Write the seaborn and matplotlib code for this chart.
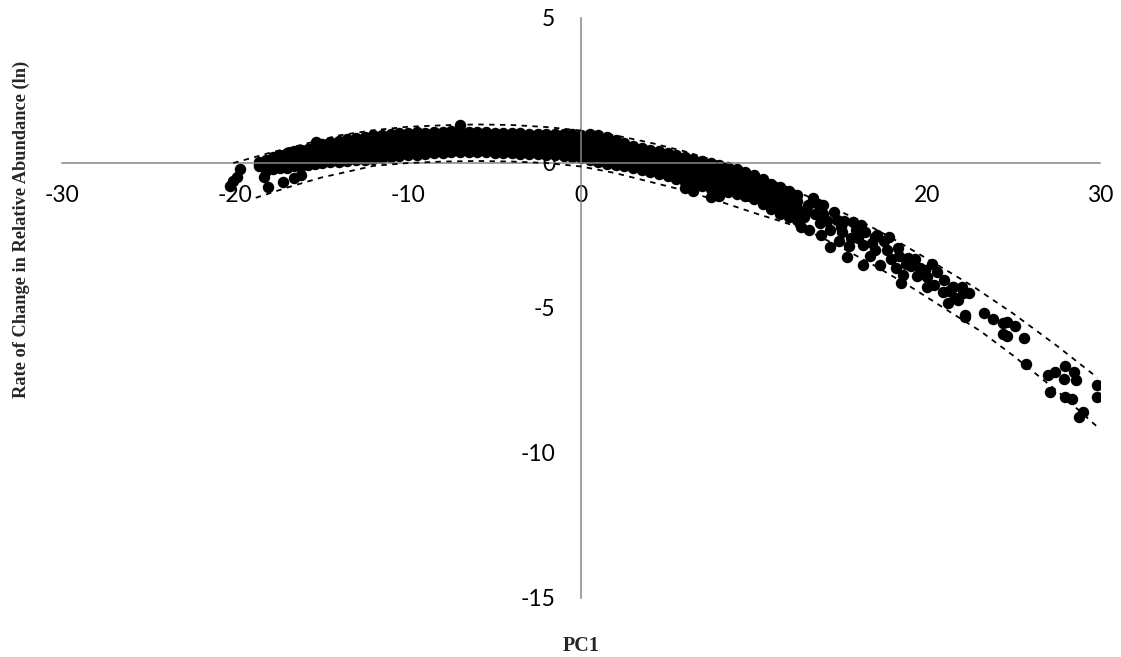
import matplotlib.pyplot as plt
import pandas as pd
import seaborn as sns

sns.set_style("white")
plt.rcParams['font.family'] = ['Lato', 'DejaVu Sans']
plt.rcParams['axes.unicode_minus'] = False

band_pc1 = [-18.6, -18.2, -17.8, -17.4, -17.0, -16.6, -16.2, -15.8, -15.4, -15.0,
            -14.5, -14.0, -13.5, -13.0, -12.5, -12.0, -11.5, -11.0, -10.5, -10.0,
            -9.5, -9.0, -8.5, -8.0, -7.5, -7.0, -6.5, -6.0, -5.5, -5.0,
            -4.5, -4.0, -3.5, -3.0, -2.5, -2.0, -1.5, -1.0, -0.5, 0.0,
            0.5, 1.0, 1.5, 2.0, 2.5, 3.0, 3.5, 4.0, 4.5, 5.0,
            5.5, 6.0, 6.5, 7.0, 7.5, 8.0, 8.5, 9.0, 9.5, 10.0,
            10.5, 11.0, 11.5, 12.0, 12.5]
band_rate = [
    [-0.12, -0.04, 0.04], [-0.27, -0.14, -0.01, 0.12], [-0.2, -0.07, 0.07, 0.2],
    [-0.18, -0.03, 0.12, 0.27], [-0.16, 0.0, 0.17, 0.34], [-0.12, 0.05, 0.22, 0.4],
    [-0.1, 0.08, 0.26, 0.44], [-0.08, 0.06, 0.2, 0.34, 0.48],
    [-0.05, 0.11, 0.28, 0.44, 0.6], [0.0, 0.17, 0.33, 0.5, 0.66],
    [0.02, 0.2, 0.37, 0.55, 0.72], [0.04, 0.22, 0.4, 0.58, 0.76],
    [0.06, 0.25, 0.44, 0.63, 0.82], [0.09, 0.28, 0.48, 0.67, 0.86],
    [0.12, 0.32, 0.51, 0.71, 0.9], [0.15, 0.35, 0.55, 0.75, 0.95],
    [0.18, 0.38, 0.58, 0.78, 0.98], [0.2, 0.4, 0.61, 0.81, 1.01],
    [0.24, 0.44, 0.64, 0.83, 1.03], [0.27, 0.47, 0.66, 0.86, 1.05],
    [0.29, 0.48, 0.68, 0.87, 1.06], [0.31, 0.5, 0.68, 0.87, 1.05],
    [0.33, 0.52, 0.71, 0.89, 1.08], [0.35, 0.53, 0.71, 0.89, 1.07],
    [0.37, 0.55, 0.74, 0.92, 1.1], [0.38, 0.57, 0.75, 0.94, 1.12, 1.3],
    [0.38, 0.56, 0.73, 0.91, 1.08], [0.38, 0.55, 0.73, 0.9, 1.07],
    [0.37, 0.54, 0.72, 0.89, 1.06], [0.35, 0.53, 0.7, 0.88, 1.05],
    [0.34, 0.52, 0.69, 0.87, 1.04], [0.33, 0.51, 0.68, 0.86, 1.03],
    [0.32, 0.5, 0.67, 0.85, 1.02], [0.3, 0.48, 0.65, 0.83, 1.0],
    [0.3, 0.48, 0.66, 0.83, 1.01], [0.29, 0.47, 0.64, 0.82, 0.99],
    [0.27, 0.45, 0.64, 0.82, 1.0], [0.25, 0.44, 0.62, 0.81, 0.99],
    [0.22, 0.42, 0.61, 0.81, 1.0], [0.18, 0.38, 0.58, 0.78, 0.98],
    [0.1, 0.33, 0.55, 0.78, 1.0], [0.02, 0.26, 0.5, 0.73, 0.97],
    [-0.03, 0.2, 0.44, 0.67, 0.9], [-0.08, 0.14, 0.36, 0.58, 0.8],
    [-0.12, 0.09, 0.29, 0.5, 0.7], [-0.16, 0.03, 0.22, 0.41, 0.6],
    [-0.23, -0.04, 0.15, 0.33, 0.52], [-0.3, -0.11, 0.08, 0.26, 0.45],
    [-0.37, -0.18, 0.02, 0.21, 0.4], [-0.45, -0.25, -0.05, 0.16, 0.36],
    [-0.55, -0.34, -0.13, 0.07, 0.28], [-0.65, -0.44, -0.23, -0.01, 0.2, -0.86],
    [-0.72, -0.51, -0.3, -0.08, 0.13, -0.97], [-0.8, -0.58, -0.37, -0.15, 0.07],
    [-0.9, -0.68, -0.45, -0.23, 0.0, -1.17], [-0.95, -0.73, -0.51, -0.28, -0.06, -1.15],
    [-1.0, -0.78, -0.57, -0.35, -0.13], [-1.07, -0.85, -0.63, -0.42, -0.2],
    [-1.15, -0.94, -0.73, -0.51, -0.3], [-1.25, -1.04, -0.83, -0.61, -0.4],
    [-1.4, -1.19, -0.98, -0.76, -0.55], [-1.6, -1.38, -1.16, -0.94, -0.72],
    [-1.75, -1.52, -1.28, -1.05, -0.82], [-1.85, -1.63, -1.41, -1.19, -0.97],
    [-1.98, -1.76, -1.54, -1.32, -1.1],
]

# loose points at the left end
left_pc1 = [-20.3, -20.1, -19.9, -19.7, -18.35, -18.1, -17.2, -16.6, -16.2, -15.3]
left_rate = [-0.78, -0.63, -0.47, -0.21, -0.5, -0.84, -0.64, -0.52, -0.41, 0.73]

# the thinning tail on the right
tail_pc1 = [12.7, 13.2, 13.4, 13.8, 14.0, 14.6, 14.4, 15.1, 15.4, 15.6,
            15.9, 16.3, 16.4, 16.3, 17.1, 17.0, 17.7, 17.3, 18.3, 18.2,
            18.5, 18.6, 18.9, 19.3, 19.6, 20.0, 20.0, 20.6, 21.0, 20.9,
            21.5, 21.6, 22.0, 22.4, 22.2, 21.2,
            13.0, 13.5, 14.2, 14.8, 15.2, 13.9, 14.9, 16.0, 16.8, 17.5,
            16.7, 17.9, 18.8, 19.4, 20.3, 20.4, 21.3,
            13.1, 13.7, 14.4, 15.0, 15.7, 16.2, 17.0, 17.8, 18.4, 19.1,
            19.9, 12.9, 14.0, 15.5,
            21.5, 22.1, 21.8, 22.2, 23.3, 23.8, 24.4, 24.6, 25.1, 24.4,
            24.6, 25.6, 25.7, 27.0, 27.4, 28.0, 28.5, 27.9, 28.6, 27.1,
            28.0, 28.4, 29.0, 28.8, 29.8, 29.8]
tail_rate = [-2.2, -2.3, -1.2, -2.07, -1.45, -1.69, -2.9, -2.38, -3.24, -2.59,
             -2.31, -2.83, -2.38, -3.52, -2.48, -3.0, -3.0, -3.52, -2.93, -3.62,
             -4.14, -3.86, -3.28, -3.3, -3.62, -3.93, -4.28, -3.76, -4.03, -4.45,
             -4.28, -4.66, -4.28, -4.48, -5.31, -4.83,
             -1.7, -1.75, -2.0, -1.95, -2.0, -2.5, -2.7, -2.6, -2.75, -2.7,
             -3.2, -3.3, -3.5, -3.9, -3.5, -4.2, -4.4,
             -1.45, -1.4, -2.3, -2.2, -2.05, -2.15, -2.55, -2.55, -3.2, -3.55,
             -3.7, -1.85, -1.75, -2.85,
             -4.27, -4.48, -4.72, -5.24, -5.17, -5.38, -5.52, -5.48, -5.62, -5.9,
             -5.97, -6.03, -6.93, -7.31, -7.2, -7.0, -7.2, -7.45, -7.48, -7.9,
             -8.07, -8.14, -8.59, -8.76, -7.66, -8.07]

# dashed envelope curves
upper_pc1 = [-20.1, -19.0, -18.0, -17.0, -16.0, -15.0, -14.0, -12.0, -10.0, -8.0,
             -6.0, -4.0, -2.0, 0.0, 2.0, 4.0, 6.0, 8.0, 10.5, 12.3,
             14.0, 16.0, 18.0, 20.0, 21.4, 22.7, 25.0, 27.5, 29.85]
upper_rate = [0.0, 0.18, 0.35, 0.5, 0.65, 0.8, 0.95, 1.13, 1.25, 1.3,
              1.33, 1.31, 1.24, 1.12, 0.95, 0.7, 0.4, 0.03, -0.48, -0.93,
              -1.4, -1.95, -2.6, -3.3, -3.8, -4.27, -5.2, -6.3, -7.4]
lower_pc1 = [-18.8, -17.0, -15.0, -12.0, -10.0, -8.0, -6.0, -4.0, -2.0, 0.0,
             2.0, 4.0, 6.0, 8.0, 10.0, 11.5, 13.0, 15.0, 17.0, 19.0,
             21.5, 23.1, 25.0, 27.5, 29.85]
lower_rate = [-1.2, -0.85, -0.5, -0.1, 0.0, 0.05, 0.07, 0.05, 0.0, -0.12,
              -0.35, -0.65, -0.95, -1.32, -1.72, -2.0, -2.3, -2.9, -3.55, -4.25,
              -5.2, -5.8, -6.65, -7.85, -9.1]

rows = [(x, y) for x, ys in zip(band_pc1, band_rate) for y in ys]
rows += list(zip(left_pc1, left_rate)) + list(zip(tail_pc1, tail_rate))
df = pd.DataFrame(rows, columns=['PC1', 'rate'])

fig = plt.figure(figsize=(11.21, 6.57), dpi=100)
ax = fig.add_axes([62 / 1121, 1 - 598 / 657, 1038 / 1121, 580 / 657])

sns.scatterplot(data=df, x='PC1', y='rate', color='black', s=68, linewidth=0,
                ax=ax, zorder=2)
for xs, ys in [(upper_pc1, upper_rate), (lower_pc1, lower_rate)]:
    sns.lineplot(x=xs, y=ys, color='black', lw=1.3, sort=False, ax=ax, zorder=3,
                 linestyle=(0, (3, 3)))

ax.set_xlim(-30, 30)
ax.set_ylim(-15, 5)
ax.set_xticks(range(-30, 31, 10))
ax.set_yticks(range(-15, 6, 5))

grey = '#868686'
for side in ['top', 'right']:
    ax.spines[side].set_visible(False)
for side in ['left', 'bottom']:
    ax.spines[side].set_position(('data', 0))
    ax.spines[side].set_color(grey)
    ax.spines[side].set_linewidth(1.1)

ax.tick_params(axis='both', direction='out', length=5.5, width=1.1, color=grey,
               labelsize=16.5, labelcolor='black')
ax.tick_params(axis='x', pad=10)
ax.tick_params(axis='y', pad=13)

ax.set_xlabel('PC1', fontfamily='Liberation Serif', fontweight='bold', fontsize=14.5)
ax.set_ylabel('Rate of Change in Relative Abundance (ln)', fontfamily='Liberation Serif',
              fontweight='bold', fontsize=13.2)
ax.xaxis.set_label_coords(0.5, -0.066)
ax.yaxis.set_label_coords(-0.031, 0.635)

fig.savefig('out.png', dpi=100)
